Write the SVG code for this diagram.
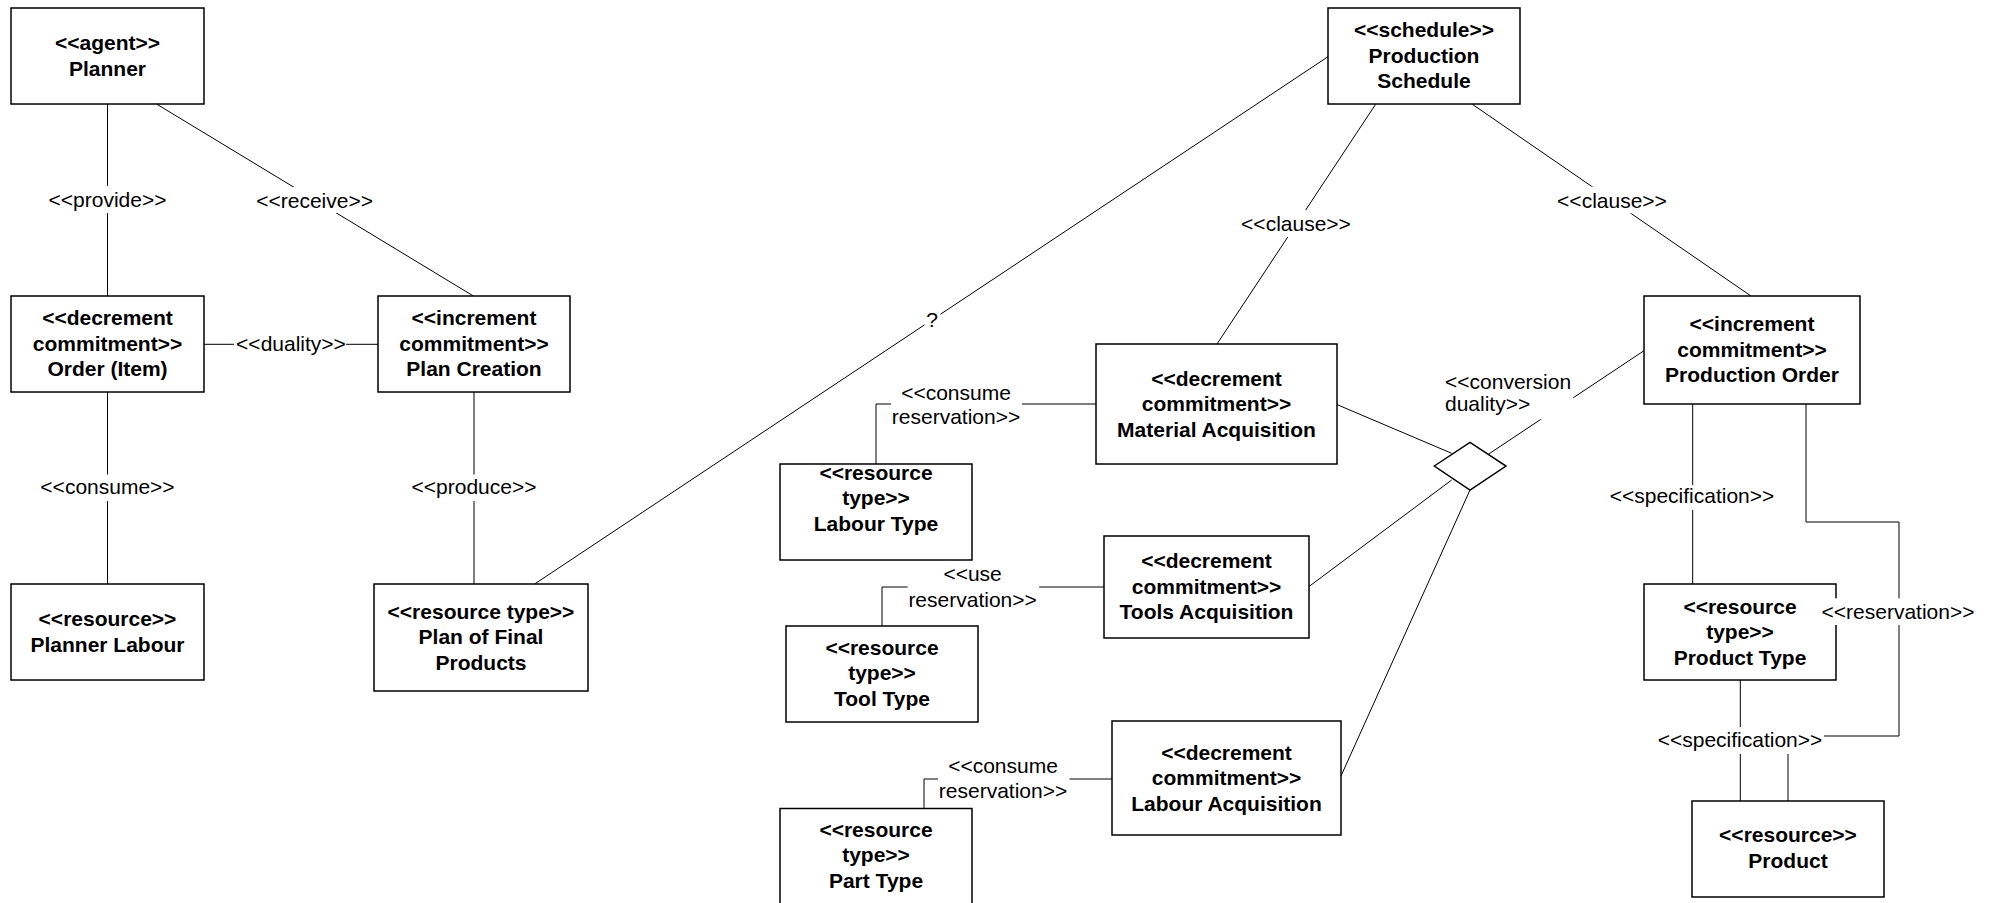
<svg xmlns="http://www.w3.org/2000/svg" width="1997" height="903" viewBox="0 0 1997 903">
<style>
.box{fill:#fff;stroke:#000;stroke-width:1.5}
.b{font-family:"Liberation Sans",Arial,sans-serif;font-weight:bold;font-size:21px;text-anchor:middle;fill:#000}
.l{font-family:"Liberation Sans",Arial,sans-serif;font-size:21px;text-anchor:middle;fill:#000}
.ll{font-family:"Liberation Sans",Arial,sans-serif;font-size:21px;text-anchor:start;fill:#000}
.ln{stroke:#000;stroke-width:1;fill:none}
.bg{fill:#fff;stroke:none}
</style>
<rect width="1997" height="903" fill="#fff"/>
<g id="nodes">
<g id="planner"><rect class="box" x="11" y="8" width="193" height="96"/><text class="b" x="107.5" y="49.5">&lt;&lt;agent&gt;&gt;</text><text class="b" x="107.5" y="75.5">Planner</text></g>
<g id="order-item"><rect class="box" x="11" y="296" width="193" height="96"/><text class="b" x="107.5" y="325">&lt;&lt;decrement</text><text class="b" x="107.5" y="350.5">commitment&gt;&gt;</text><text class="b" x="107.5" y="376">Order (Item)</text></g>
<g id="plan-creation"><rect class="box" x="378" y="296" width="192" height="96"/><text class="b" x="474" y="325">&lt;&lt;increment</text><text class="b" x="474" y="350.5">commitment&gt;&gt;</text><text class="b" x="474" y="376">Plan Creation</text></g>
<g id="planner-labour"><rect class="box" x="11" y="584" width="193" height="96"/><text class="b" x="107.5" y="625.5">&lt;&lt;resource&gt;&gt;</text><text class="b" x="107.5" y="651.5">Planner Labour</text></g>
<g id="plan-final-products"><rect class="box" x="374" y="584" width="214" height="107"/><text class="b" x="481" y="618.5">&lt;&lt;resource type&gt;&gt;</text><text class="b" x="481" y="644">Plan of Final</text><text class="b" x="481" y="669.5">Products</text></g>
<g id="production-schedule"><rect class="box" x="1328" y="8" width="192" height="96"/><text class="b" x="1424" y="36.5">&lt;&lt;schedule&gt;&gt;</text><text class="b" x="1424" y="62.5">Production</text><text class="b" x="1424" y="88">Schedule</text></g>
<g id="material-acquisition"><rect class="box" x="1096" y="344" width="241" height="120"/><text class="b" x="1216.5" y="385.5">&lt;&lt;decrement</text><text class="b" x="1216.5" y="411">commitment&gt;&gt;</text><text class="b" x="1216.5" y="436.5">Material Acquisition</text></g>
<g id="production-order"><rect class="box" x="1644" y="296" width="216" height="108"/><text class="b" x="1752" y="331">&lt;&lt;increment</text><text class="b" x="1752" y="356.5">commitment&gt;&gt;</text><text class="b" x="1752" y="381.5">Production Order</text></g>
<g id="labour-type"><rect class="box" x="780" y="464" width="192" height="96"/><text class="b" x="876" y="480">&lt;&lt;resource</text><text class="b" x="876" y="505">type&gt;&gt;</text><text class="b" x="876" y="530.5">Labour Type</text></g>
<g id="tools-acquisition"><rect class="box" x="1104" y="536" width="205" height="102"/><text class="b" x="1206.5" y="568">&lt;&lt;decrement</text><text class="b" x="1206.5" y="593.5">commitment&gt;&gt;</text><text class="b" x="1206.5" y="619">Tools Acquisition</text></g>
<g id="tool-type"><rect class="box" x="786" y="626" width="192" height="96"/><text class="b" x="882" y="654.5">&lt;&lt;resource</text><text class="b" x="882" y="679.5">type&gt;&gt;</text><text class="b" x="882" y="705.5">Tool Type</text></g>
<g id="labour-acquisition"><rect class="box" x="1112" y="721" width="229" height="114"/><text class="b" x="1226.5" y="759.5">&lt;&lt;decrement</text><text class="b" x="1226.5" y="784.5">commitment&gt;&gt;</text><text class="b" x="1226.5" y="810.5">Labour Acquisition</text></g>
<g id="part-type"><rect class="box" x="780" y="808.5" width="192" height="96"/><text class="b" x="876" y="836.5">&lt;&lt;resource</text><text class="b" x="876" y="861.5">type&gt;&gt;</text><text class="b" x="876" y="887.5">Part Type</text></g>
<g id="product-type"><rect class="box" x="1644" y="584" width="192" height="96"/><text class="b" x="1740" y="613.5">&lt;&lt;resource</text><text class="b" x="1740" y="639">type&gt;&gt;</text><text class="b" x="1740" y="665">Product Type</text></g>
<g id="product"><rect class="box" x="1692" y="801" width="192" height="96"/><text class="b" x="1788" y="841.5">&lt;&lt;resource&gt;&gt;</text><text class="b" x="1788" y="867.5">Product</text></g>
<g id="conversion-diamond"><polygon class="box" stroke-width="1" points="1434.3,466 1470,442.3 1506,466 1470,490"/></g>
</g>
<g id="connectors">
<line class="ln" x1="107.5" y1="104" x2="107.5" y2="296"/>
<rect class="bg" x="60" y="186" width="95" height="27"/><text class="l" x="107.5" y="207">&lt;&lt;provide&gt;&gt;</text>
<line class="ln" x1="156.5" y1="104" x2="473.4" y2="296"/>
<rect class="bg" x="265" y="187" width="99" height="26"/><text class="l" x="314.6" y="208">&lt;&lt;receive&gt;&gt;</text>
<line class="ln" x1="204" y1="344.3" x2="378" y2="344.3"/>
<rect class="bg" x="234" y="331" width="112" height="27"/><text class="l" x="291" y="351">&lt;&lt;duality&gt;&gt;</text>
<line class="ln" x1="107.5" y1="392" x2="107.5" y2="584"/>
<rect class="bg" x="50" y="474.5" width="115" height="26.5"/><text class="l" x="107.5" y="494">&lt;&lt;consume&gt;&gt;</text>
<line class="ln" x1="474" y1="392" x2="474" y2="584"/>
<rect class="bg" x="418" y="474.5" width="112" height="26.5"/><text class="l" x="474" y="494">&lt;&lt;produce&gt;&gt;</text>
<line class="ln" x1="534.6" y1="584" x2="1328" y2="56.7"/>
<rect class="bg" x="924.5" y="308.5" width="16" height="20"/><text class="l" x="932" y="326.5">?</text>
<line class="ln" x1="1375.6" y1="104.3" x2="1216.8" y2="344.3"/>
<rect class="bg" x="1246" y="210" width="100" height="27"/><text class="l" x="1296" y="231">&lt;&lt;clause&gt;&gt;</text>
<line class="ln" x1="1472.4" y1="104.3" x2="1751" y2="296"/>
<rect class="bg" x="1562" y="186.7" width="100" height="26.6"/><text class="l" x="1612" y="207.5">&lt;&lt;clause&gt;&gt;</text>
<line class="ln" x1="1644" y1="350.7" x2="1488.3" y2="454.3"/>
<rect class="bg" x="1445" y="370" width="128.3" height="49.3"/><text class="ll" x="1445" y="388.5">&lt;&lt;conversion</text><text class="ll" x="1445" y="411">duality&gt;&gt;</text>
<line class="ln" x1="1337" y1="404.6" x2="1451.7" y2="453.3"/>
<line class="ln" x1="1309" y1="586.5" x2="1451.7" y2="480"/>
<line class="ln" x1="1341" y1="776" x2="1470" y2="490"/>
<polyline class="ln" points="1096,404 876,404 876,464"/>
<rect class="bg" x="891" y="380" width="131" height="50"/><text class="l" x="956" y="399.5">&lt;&lt;consume</text><text class="l" x="956" y="424">reservation&gt;&gt;</text>
<polyline class="ln" points="1104,587 882,587 882,626"/>
<rect class="bg" x="907.7" y="562" width="131.5" height="50"/><text class="l" x="972.6" y="581">&lt;&lt;use</text><text class="l" x="972.6" y="606.5">reservation&gt;&gt;</text>
<polyline class="ln" points="1112,779 924,779 924,808.5"/>
<rect class="bg" x="938" y="754" width="131.5" height="50"/><text class="l" x="1003" y="772.5">&lt;&lt;consume</text><text class="l" x="1003" y="797.5">reservation&gt;&gt;</text>
<line class="ln" x1="1692.7" y1="404" x2="1692.7" y2="584"/>
<rect class="bg" x="1608" y="485" width="168" height="25"/><text class="l" x="1692" y="503">&lt;&lt;specification&gt;&gt;</text>
<polyline class="ln" points="1806,404 1806,522 1899,522 1899,736 1788,736 1788,801"/>
<rect class="bg" x="1820" y="598.3" width="156" height="26.7"/><text class="l" x="1898" y="618.5">&lt;&lt;reservation&gt;&gt;</text>
<line class="ln" x1="1740.3" y1="680" x2="1740.3" y2="801"/>
<rect class="bg" x="1656" y="727" width="168" height="27"/><text class="l" x="1740" y="747">&lt;&lt;specification&gt;&gt;</text>
</g>
</svg>
